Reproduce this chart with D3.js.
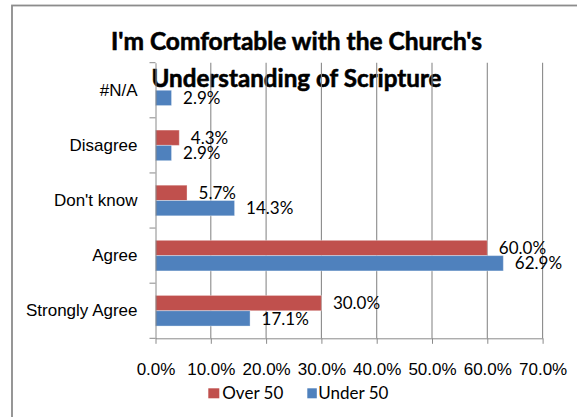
<!DOCTYPE html>
<html>
<head>
<meta charset="utf-8">
<script src="https://cdn.jsdelivr.net/npm/d3@7"></script>
<style>
    html, body { margin: 0; padding: 0; background: #fff; }
    svg { display: block; font-family: Lato, "Open Sans", sans-serif; }
</style>
</head>
<body>
<svg id="chart" width="577" height="417"></svg>
<script>
// categories, top to bottom as drawn
const categories = ["#N/A", "Disagree", "Don't know", "Agree", "Strongly Agree"];
const seriesNames = ["Over 50", "Under 50"];
// percent values, null = no bar
const over50 = [null, 4.3, 5.7, 60.0, 30.0];
const under50 = [2.9, 2.9, 14.3, 62.9, 17.1];
const xTicks = [0, 10, 20, 30, 40, 50, 60, 70];
const titleLines = ["I'm Comfortable with the Church's", "Understanding of Scripture"];

const svg = d3.select("#chart");

// plot area
const plot = {left: 155.5, right: 542.6, top: 62.7, bottom: 338.3};
const fontSize = 17;

const color = d3.scaleOrdinal().domain(seriesNames).range(["#C0504D", "#4F81BD"]);

const x = d3.scaleLinear().domain([0, 70]).range([plot.left, plot.right]);
const y = d3.scaleBand().domain(categories).range([plot.top, plot.bottom]);
const ySeries = d3.scaleBand().domain(seriesNames).range([0, y.bandwidth()]).paddingOuter(0.8);

const rows = categories.map((c, i) => ({
    category: c,
    values: [
        {series: seriesNames[0], value: over50[i]},
        {series: seriesNames[1], value: under50[i]}
    ].filter(d => d.value != null)
}));

// chart border
svg.append("rect")
    .attr("x", 12).attr("y", 5.5)
    .attr("width", 569).attr("height", 420)
    .attr("fill", "none")
    .attr("stroke", "#8c8c8c")
    .attr("stroke-width", 1.8);

// title
svg.append("g").selectAll("text")
    .data(titleLines)
    .join("text")
    .attr("x", 296.5)
    .attr("y", (d, i) => 50 + i * 36.5)
    .attr("text-anchor", "middle")
    .attr("font-weight", 700)
    .attr("font-size", 25)
    .attr("stroke", "#000")
    .attr("stroke-width", 0.6)
    .attr("textLength", (d, i) => i === 0 ? 371 : 290)
    .attr("lengthAdjust", "spacingAndGlyphs")
    .text(d => d);

// vertical gridlines
svg.append("g").selectAll("line")
    .data(xTicks.filter(d => d > 0))
    .join("line")
    .attr("x1", d => x(d)).attr("x2", d => x(d))
    .attr("y1", plot.top).attr("y2", plot.bottom)
    .attr("stroke", "#8a8a8a")
    .attr("stroke-width", 1.1);

// bars
const groups = svg.append("g").selectAll("g")
    .data(rows)
    .join("g")
    .attr("transform", d => `translate(0,${y(d.category)})`);

groups.selectAll("rect")
    .data(d => d.values)
    .join("rect")
    .attr("x", x(0))
    .attr("y", d => ySeries(d.series))
    .attr("width", d => x(d.value) - x(0))
    .attr("height", ySeries.bandwidth())
    .attr("fill", d => color(d.series))
    .attr("stroke", "#fff")
    .attr("stroke-opacity", 0.35)
    .attr("stroke-width", 1);

groups.selectAll("text")
    .data(d => d.values)
    .join("text")
    .attr("x", d => x(d.value) + 11.5)
    .attr("y", d => ySeries(d.series) + ySeries.bandwidth() / 2)
    .attr("dy", "0.36em")
    .attr("font-size", fontSize)
    .attr("fill", "#000")
    .text(d => d.value.toFixed(1) + "%");

// bottom axis
const axisX = d3.axisBottom(x)
    .tickValues(xTicks)
    .tickFormat(d => d.toFixed(1) + "%")
    .tickSize(5.5)
    .tickSizeOuter(0)
    .tickPadding(19);

const axisXG = svg.append("g")
    .attr("transform", `translate(0,${plot.bottom})`)
    .call(axisX);
axisXG.select(".domain").attr("stroke", "#8a8a8a");
axisXG.selectAll(".tick line").attr("stroke", "#8a8a8a");
axisXG.selectAll(".tick text").attr("font-size", fontSize).attr("fill", "#000").attr("font-family", null);

// left axis: labels at band centres, ticks between categories
const axisY = d3.axisLeft(y).tickSize(0).tickPadding(18);
const axisYG = svg.append("g")
    .attr("transform", `translate(${plot.left},0)`)
    .call(axisY);
axisYG.select(".domain").attr("stroke", "#8a8a8a");
axisYG.selectAll(".tick text").attr("font-size", fontSize).attr("fill", "#000").attr("font-family", null);

axisYG.selectAll(".boundary")
    .data(categories.map(c => y(c)).concat([plot.bottom]))
    .join("line")
    .attr("class", "boundary")
    .attr("x1", -6).attr("x2", 0)
    .attr("y1", d => d).attr("y2", d => d)
    .attr("stroke", "#8a8a8a");

// legend
const legendX = [208.3, 307.3];
const legend = svg.append("g").selectAll("g")
    .data(seriesNames)
    .join("g")
    .attr("transform", (d, i) => `translate(${legendX[i]},388.3)`);

legend.append("rect")
    .attr("width", (d, i) => i === 0 ? 11 : 9.5)
    .attr("height", 10)
    .attr("fill", d => color(d));

legend.append("text")
    .attr("x", (d, i) => i === 0 ? 14 : 11)
    .attr("y", 10.7)
    .attr("font-size", fontSize)
    .attr("fill", "#000")
    .text(d => d);
</script>
</body>
</html>
